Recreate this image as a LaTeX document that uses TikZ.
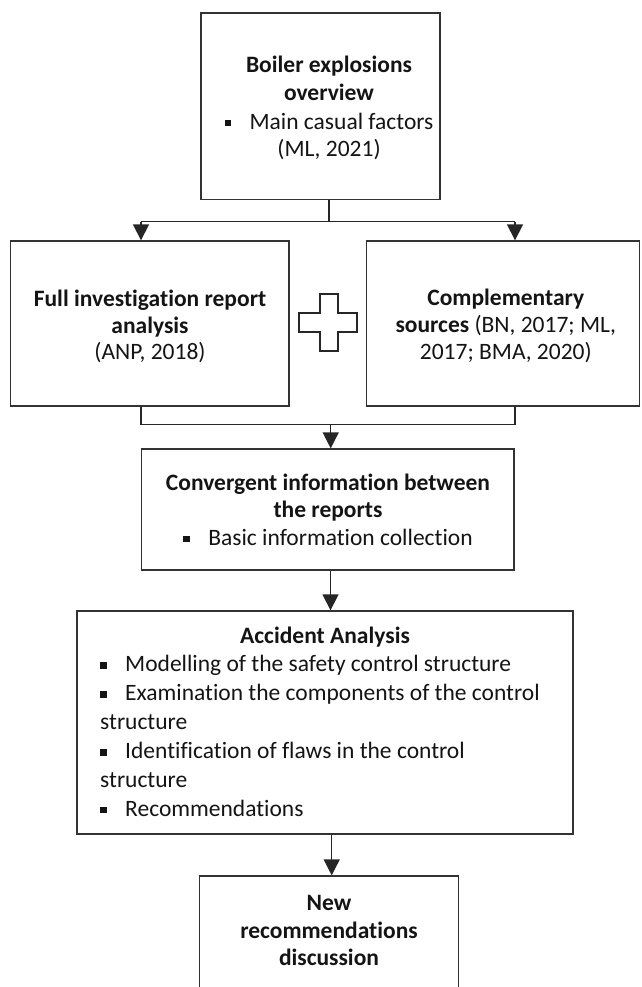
\documentclass[tikz,border=0pt]{standalone}
\usepackage{fontspec}
\setmainfont{Carlito}[Ligatures={NoCommon,NoContextual,NoRare},RawFeature={-liga;-clig;-dlig}]
\usetikzlibrary{arrows.meta}
\newcommand{\bsq}{\rule[3pt]{6.5pt}{6.5pt}}
\tikzset{
  boxnode/.style={draw=black!80, line width=1.3pt, rectangle, inner sep=0pt},
  txt/.style={inner sep=0pt, anchor=base, text=black!92, font=\fontsize{23.5pt}{28pt}\selectfont},
  txtl/.style={txt, anchor=base west},
  conn/.style={draw=black!85, line width=1.3pt},
  arr/.style={conn, -{Triangle[width=16pt,length=16pt]}},
}
\begin{document}
\begin{tikzpicture}[x=1pt,y=-1pt]
\clip (0,0) rectangle (641,987);
\useasboundingbox (0,0) rectangle (641,987);

% boxes
\node[boxnode, minimum width=239pt, minimum height=186.3pt] (top) at (320.5,106.15) {};
\node[boxnode, minimum width=278.3pt, minimum height=165pt] (left) at (149.85,323.5) {};
\node[boxnode, minimum width=273pt, minimum height=165pt] (right) at (503,323.5) {};
\node[boxnode, minimum width=372.3pt, minimum height=121pt] (conv) at (327.85,509.5) {};
\node[boxnode, minimum width=496pt, minimum height=223pt] (acc) at (325,722.5) {};
\node[boxnode, minimum width=259pt, minimum height=150pt] (new) at (328.8,951) {};

% plus sign
\draw[conn] (320,294) -- (338,294) -- (338,313) -- (357,313) -- (357,332) -- (338,332)
  -- (338,351) -- (320,351) -- (320,332) -- (299,332) -- (299,313) -- (320,313) -- cycle;

% texts: top box
\node[txt] (t1) at (329,72.7) {\textbf{Boiler explosions}};
\node[txt] (t2) at (329,101) {\textbf{overview}};
\node[txt] (t3) at (329,129.3) {\bsq\hspace{18.5pt}Main casual factors};
\node[txt] (t4) at (329,157) {(ML, 2021)};
% left box
\node[txt] (l1) at (150,306) {\textbf{Full investigation report}};
\node[txt] (l2) at (150,333.3) {\textbf{analysis}};
\node[txt] (l3) at (150,359.5) {(ANP, 2018)};
% right box
\node[txt] (r1) at (505.8,305) {\textbf{Complementary}};
\node[txt] (r2) at (505.8,332.3) {\textbf{sources} (BN, 2017; ML,};
\node[txt] (r3) at (505.8,359.3) {2017; BMA, 2020)};
% convergent box
\node[txt] (c1) at (328,490) {\textbf{Convergent information between}};
\node[txt] (c2) at (328,517.7) {\textbf{the reports}};
\node[txt] (c3) at (328,545) {\bsq\hspace{18.5pt}Basic information collection};
% accident box
\node[txt] (a1) at (325,643) {\textbf{Accident Analysis}};
\node[txtl] (a2) at (100,671.9) {\bsq\hspace{18.5pt}Modelling of the safety control structure};
\node[txtl] (a3) at (100,700.8) {\bsq\hspace{18.5pt}Examination the components of the control};
\node[txtl] (a4) at (100,729.7) {structure};
\node[txtl] (a5) at (100,758.6) {\bsq\hspace{18.5pt}Identification of flaws in the control};
\node[txtl] (a6) at (100,787.5) {structure};
\node[txtl] (a7) at (100,816.4) {\bsq\hspace{18.5pt}Recommendations};
% new box
\node[txt] (n1) at (329,910.5) {\textbf{New}};
\node[txt] (n2) at (329,938) {\textbf{recommendations}};
\node[txt] (n3) at (329,965.5) {\textbf{discussion}};

% connectors
\coordinate (jT) at (329,221.7);
\coordinate (jL) at (141,221.7);
\coordinate (jR) at (515,221.7);
\draw[conn] (jT |- top.south) -- (jT);
\draw[conn] (jL) -- (jR);
\draw[arr] (jL) -- (jL |- left.north);
\draw[arr] (jR) -- (jR |- right.north);

\coordinate (mL) at (141,424.3);
\coordinate (mR) at (515,424.3);
\coordinate (mC) at (330.7,424.3);
\draw[conn] (mL |- left.south) -- (mL) -- (mR) -- (mR |- right.south);
\draw[arr] (mC) -- (mC |- conv.north);

\coordinate (k1) at (330.5,0);
\draw[arr] (k1 |- conv.south) -- (k1 |- acc.north);
\coordinate (k2) at (331.7,0);
\draw[arr] (k2 |- acc.south) -- (k2 |- new.north);
\end{tikzpicture}
\end{document}
